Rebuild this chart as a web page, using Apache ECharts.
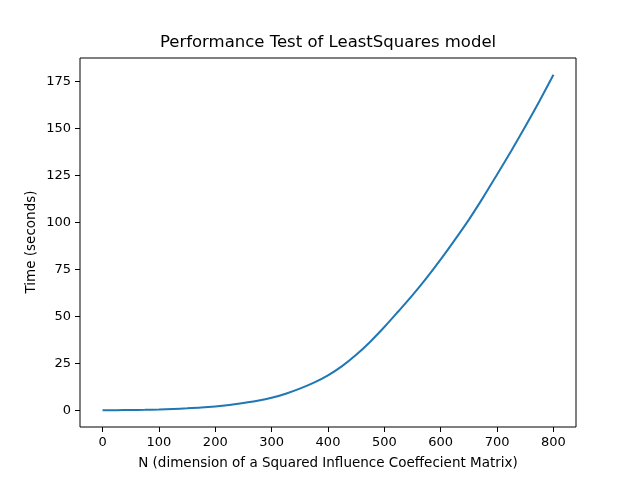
<!DOCTYPE html>
<html>
<head>
<meta charset="utf-8">
<script src="https://cdn.jsdelivr.net/npm/echarts@6/dist/echarts.min.js"></script>
<style>html,body{margin:0;padding:0;background:#fff}#c{width:640px;height:480px}</style>
</head>
<body>
<div id="c"></div>
<script>
var nValues = [0, 25, 50, 75, 100, 125, 150, 175, 200, 225, 250, 275, 300, 325, 350, 375, 400, 425, 450, 475, 500, 525, 550, 575, 600, 625, 650, 675, 700, 725, 750, 775, 800];
var timeValues = [0, 0.02, 0.1, 0.2, 0.4, 0.7, 1.0, 1.4, 2.0, 2.8, 3.8, 5.0, 6.6, 8.8, 11.5, 14.7, 18.6, 23.5, 29.5, 36.5, 44.3, 52.7, 61.3, 70.5, 80.3, 90.7, 101.5, 113.2, 125.5, 138, 151, 164.5, 178.6];
var xTicks = [0, 100, 200, 300, 400, 500, 600, 700, 800];
var yTicks = [0, 25, 50, 75, 100, 125, 150, 175];
var titleText = 'Performance Test of LeastSquares model';
var xLabel = 'N (dimension of a Squared Influence Coeffecient Matrix)';
var yLabel = 'Time (seconds)';

var font = 'DejaVu Sans';
var chart = echarts.init(document.getElementById('c'), null, {renderer: 'canvas'});
var yMax = Math.max.apply(null, timeValues), yMin = Math.min.apply(null, timeValues);
var yPad = (yMax - yMin) * 0.05;
var xPad = (nValues[nValues.length - 1] - nValues[0]) * 0.05;
chart.setOption({
  animation: false,
  backgroundColor: '#fff',
  grid: {left: 80, right: 64, top: 58, bottom: 53, show: true, borderColor: '#000', borderWidth: 1, backgroundColor: 'transparent'},
  xAxis: {
    type: 'value', min: nValues[0] - xPad, max: nValues[nValues.length - 1] + xPad,
    position: 'bottom',
    axisLine: {show: false, onZero: false},
    splitLine: {show: false},
    axisTick: {show: true, inside: false, length: 5, lineStyle: {color: '#000', width: 1}, customValues: xTicks},
    axisLabel: {show: true, margin: 9, color: '#000', fontFamily: font, fontSize: 13, customValues: xTicks}
  },
  yAxis: {
    type: 'value', min: yMin - yPad, max: yMax + yPad,
    position: 'left',
    axisLine: {show: false, onZero: false},
    splitLine: {show: false},
    axisTick: {show: true, inside: false, length: 5, lineStyle: {color: '#000', width: 1}, customValues: yTicks},
    axisLabel: {show: true, margin: 9, color: '#000', fontFamily: font, fontSize: 13, customValues: yTicks}
  },
  series: [{
    type: 'line',
    data: nValues.map(function (n, i) { return [n, timeValues[i]]; }),
    smooth: 0.3,
    showSymbol: false,
    lineStyle: {color: '#1f77b4', width: 2},
    itemStyle: {color: '#1f77b4'}
  }],
  graphic: [
    {type: 'text', x: 328, y: 43, style: {text: titleText, font: '16.5px "DejaVu Sans"', fill: '#000', textAlign: 'center', textVerticalAlign: 'middle'}},
    {type: 'text', x: 328, y: 463, style: {text: xLabel, font: '13.5px "DejaVu Sans"', fill: '#000', textAlign: 'center', textVerticalAlign: 'middle'}},
    {type: 'text', x: 31, y: 242, rotation: Math.PI / 2, style: {text: yLabel, font: '13.5px "DejaVu Sans"', fill: '#000', textAlign: 'center', textVerticalAlign: 'middle'}}
  ]
});
</script>
</body>
</html>
